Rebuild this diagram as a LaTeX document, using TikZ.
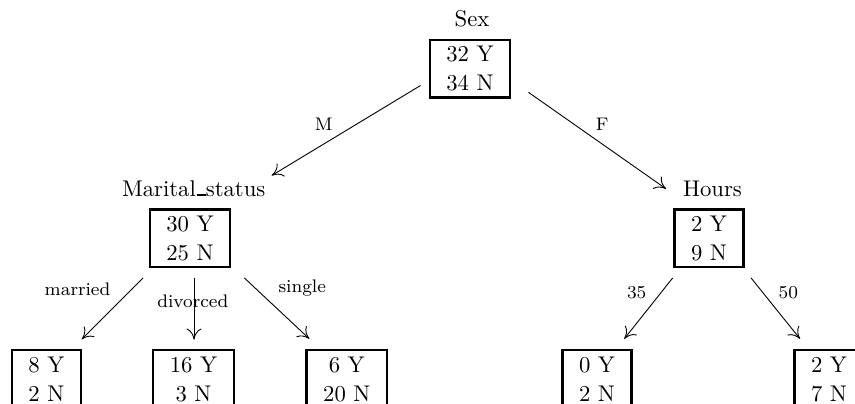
\documentclass[tikz,border=0pt]{standalone}
\usetikzlibrary{arrows.meta,calc}

% 10pt and 8pt design sizes, enlarged
\font\mainfnt="[lmroman10-regular]:mapping=tex-text" at 22.7pt
\font\lblfnt="[lmroman8-regular]:mapping=tex-text" at 18.2pt
\newcommand\ulbar{\kern.06em\vbox{\hrule height 2.2pt width .38em}}

\tikzset{
  countbox/.style={draw, line width=2.4pt, font={\mainfnt\baselineskip=29pt\relax},
    align=center, inner xsep=16.6pt, inner ysep=0pt, minimum height=57.6pt},
  attr/.style={font=\mainfnt, anchor=base, inner sep=0pt},
  branch/.style={font=\lblfnt, anchor=base, inner sep=0pt},
  edge/.style={line width=0.9pt, -{To[length=11pt,width=15pt]}},
}

\begin{document}
\begin{tikzpicture}[x=1pt,y=-1pt]
  \useasboundingbox (0,0) rectangle (855,404);
  \clip (0,0) rectangle (855,404);

  % root
  \node[attr] (sexl) at (472,27) {Sex};
  \node[countbox] (sex) at (470,68.7) {32 Y\\34 N};

  % second level
  \node[attr] (msl) at (193.7,196) {Marital\ulbar status};
  \node[countbox] (ms) at (190,238.3) {30 Y\\25 N};
  \node[attr] (hl) at (712.5,196) {Hours};
  \node[countbox] (hours) at (709,238.3) {2 Y\\9 N};

  % leaves
  \node[countbox] (c1) at (46.4,379) {8 Y\\2 N};
  \node[countbox] (c2) at (193.5,379) {16 Y\\3 N};
  \node[countbox] (c3) at (346.8,379) {6 Y\\20 N};
  \node[countbox] (c4) at (597,379) {0 Y\\2 N};
  \node[countbox] (c5) at (829,379) {2 Y\\7 N};

  % branches
  \draw[edge] ($(sex.west)+(-8,16.8)$) -- ($(ms.north)+(81.7,-32.8)$);
  \draw[edge] ($(sex.east)+(17,23.6)$) -- ($(hours.north)+(-43,-19.5)$);
  \draw[edge] ($(ms.south)+(-47,9.6)$) -- ($(c1.north)+(35.3,-9.7)$);
  \draw[edge] ($(ms.south)+(4,9.6)$) -- ($(c2.north)+(0.5,-9.5)$);
  \draw[edge] ($(ms.south)+(54.3,9.6)$) -- ($(c3.north)+(-37.5,-10.2)$);
  \draw[edge] ($(hours.south)+(-36.3,9.6)$) -- ($(c4.north)+(27.3,-10.2)$);
  \draw[edge] ($(hours.south)+(42,9.6)$) -- ($(c5.north)+(-29,-10.2)$);

  % branch labels
  \node[branch] (lm) at (323.8,130.7) {M};
  \node[branch] (lf) at (602.3,131) {F};
  \node[branch] (lmar) at (77.5,295) {married};
  \node[branch] (ldiv) at (192.8,307.3) {divorced};
  \node[branch] (lsin) at (302.2,292.6) {single};
  \node[branch] (l35) at (636.7,298.3) {35};
  \node[branch] (l50) at (788.3,298.3) {50};
\end{tikzpicture}
\end{document}
